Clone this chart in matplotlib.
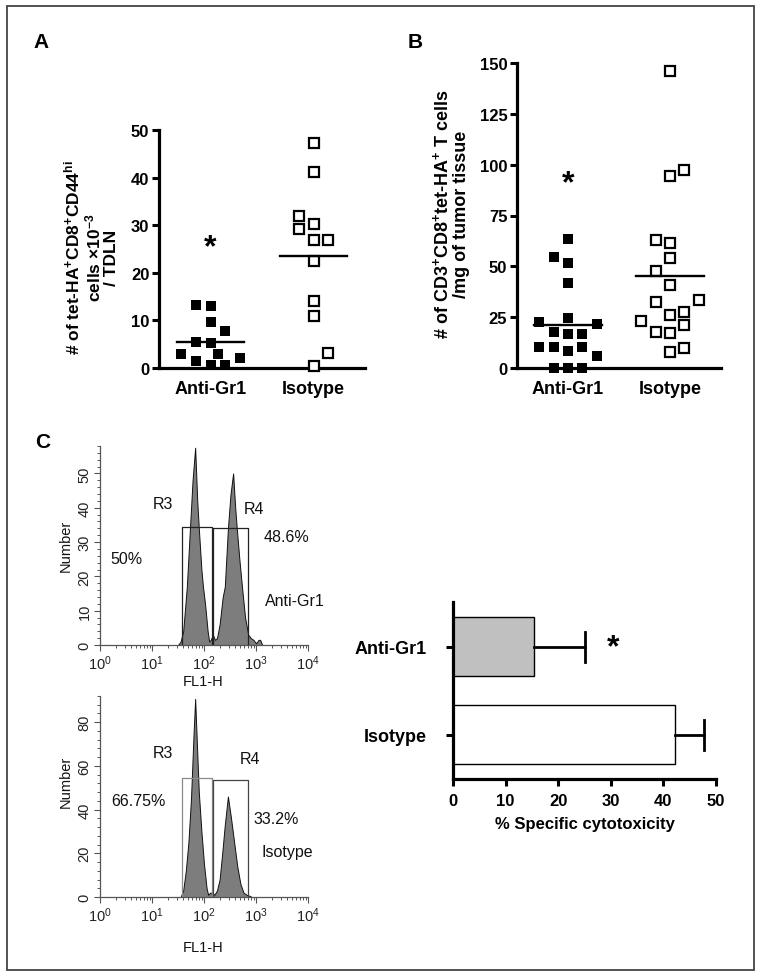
import matplotlib
matplotlib.use('Agg')
import matplotlib.pyplot as plt
import numpy as np
from matplotlib.patches import Rectangle
from matplotlib.ticker import MultipleLocator, LogLocator, NullFormatter

plt.rcParams['font.family'] = ['Liberation Sans', 'DejaVu Sans']
plt.rcParams['mathtext.fontset'] = 'custom'
plt.rcParams['mathtext.rm'] = 'Liberation Sans'
plt.rcParams['mathtext.bf'] = 'Liberation Sans:bold'
plt.rcParams['mathtext.it'] = 'Liberation Sans:italic'
plt.rcParams['mathtext.default'] = 'regular'

# ---------------- data ----------------
groups = ['Anti-Gr1', 'Isotype']

# Panel A (x10^-3 cells / TDLN)
A_anti = [13.2, 13.1, 9.7, 7.8, 5.4, 5.3, 2.9, 2.9, 2.1, 1.5, 0.7, 0.7]
A_anti_col = [-1, 0, 0, 1, -1, 0, -2, 0.5, 2, -1, 0, 1]
A_iso = [47.3, 41.1, 31.9, 29.2, 30.3, 26.8, 26.9, 22.5, 14.1, 11.0, 3.2, 0.5]
A_iso_col = [0, 0, -1, -1, 0, 0, 1, 0, 0, 0, 1, 0]
A_means = [5.4, 23.6]
A_star = 25.3

# Panel B (cells / mg tumor)
B_anti = [63.5, 54.8, 51.7, 41.7, 22.5, 24.5, 21.7, 17.6, 16.7, 16.7,
          10.5, 10.5, 8.5, 10.5, 6.1, 0, 0, 0]
B_anti_col = [0, -1, 0, 0, -2, 0, 2, -1, 0, 1, -2, -1, 0, 1, 2, -1, 0, 1]
B_iso = [146, 94.2, 97.5, 63, 61.5, 54, 47.6, 41, 32.7, 33.2,
         23.3, 26.1, 27.7, 21.2, 17.6, 17.1, 9.8, 7.7]
B_iso_col = [0, 0, 1, -1, 0, 0, -1, 0, -1, 2, -2, 0, 1, 1, -1, 0, 1, 0]
B_means = [21.2, 45.3]
B_star = 91

# Panel C histograms (log10 FL1-H, counts)
h1_log = [1.50, 1.55, 1.60, 1.67, 1.73, 1.78, 1.83, 1.87, 1.90, 1.95, 1.98, 2.02,
          2.07, 2.10, 2.13, 2.17, 2.21, 2.25, 2.30, 2.36, 2.40, 2.46, 2.51, 2.56,
          2.60, 2.63, 2.68, 2.73, 2.79, 2.85, 2.90, 2.95, 3.00, 3.05, 3.08, 3.12]
h1_cnt = [0, 1, 4, 17, 34, 48, 57.5, 42, 34, 22, 17, 12,
          4, 1, 1.5, 3, 1.5, 2, 6, 14, 17, 34, 44, 50,
          40, 34, 25, 17, 8, 3, 2, 1.5, 0.5, 1.5, 1.5, 0]
h2_log = [1.55, 1.60, 1.65, 1.70, 1.75, 1.80, 1.83, 1.86, 1.90, 1.95, 2.00, 2.05,
          2.08, 2.12, 2.16, 2.20, 2.25, 2.30, 2.35, 2.40, 2.46, 2.52, 2.58, 2.64,
          2.70, 2.76, 2.82, 2.88, 2.92]
h2_cnt = [0, 3, 12, 25, 45, 75, 90.7, 72, 48, 30, 15, 4,
          1, 2, 2, 1, 3, 8, 20, 33, 46, 36, 25, 14,
          6, 2, 1, 0.5, 0]
gate_R3 = [37, 141]
gate_R4 = [146, 700]
h1_gate_tops = [34.4, 34.0]
h2_gate_tops = [54.5, 53.7]
h1_pcts = ['50%', '48.6%']
h2_pcts = ['66.75%', '33.2%']

# Panel C bar chart
cyt_means = [15.4, 42.2]
cyt_err = [9.7, 5.5]
cyt_star = 30.4

# ---------------- layout helpers ----------------
W, H = 762, 979
fig = plt.figure(figsize=(W / 100, H / 100), dpi=100)


def fx(x):
    return x / W


def fy(y):
    return 1 - y / H


def add_ax(l, t, r, b):
    return fig.add_axes([fx(l), fy(b), (r - l) / W, (b - t) / H])


fig.patches.append(Rectangle((fx(7), fy(971)), (754 - 7) / W, (971 - 7) / H,
                             transform=fig.transFigure, fill=False,
                             edgecolor='#444444', lw=1.3))

BOLD = dict(fontweight='bold')


def style_scatter_ax(ax, ymax, ystep):
    for s in ['top', 'right']:
        ax.spines[s].set_visible(False)
    for s in ['left', 'bottom']:
        ax.spines[s].set_linewidth(2.3)
    ax.set_xlim(0.5, 2.5)
    ax.set_ylim(0, ymax)
    ax.set_yticks(np.arange(0, ymax + 0.1, ystep))
    ax.set_xticks([1, 2])
    ax.set_xticklabels(groups, fontsize=13, fontweight='bold')
    ax.tick_params(axis='x', length=0, pad=9)
    ax.tick_params(axis='y', length=5, width=2.2, pad=2, labelsize=12)
    for lab in ax.get_yticklabels():
        lab.set_fontweight('bold')
    ax.patch.set_alpha(0)


def scatter_panel(ax, anti, anti_col, iso, iso_col, means, step):
    ax.plot(1 + np.array(anti_col) * step, anti, 's', ms=7.6, mew=0,
            color='black', clip_on=False, zorder=3)
    ax.plot(2 + np.array(iso_col) * step, iso, 's', ms=7.2, mfc='white',
            mec='black', mew=1.6, clip_on=False, zorder=3)
    for i, m in enumerate(means):
        ax.plot([i + 1 - 0.33, i + 1 + 0.33], [m, m], color='black', lw=1.7,
                zorder=4)


# Panel A
axA = add_ax(159, 131, 365, 369)
style_scatter_ax(axA, 50, 10)
scatter_panel(axA, A_anti, A_anti_col, A_iso, A_iso_col, A_means, 0.142)
axA.text(1, A_star, '*', ha='center', va='center', fontsize=23, **BOLD)
fig.text(fx(91), fy(258),
         '# of tet-HA$^{\\mathbf{+}}$CD8$^{\\mathbf{+}}$CD44$^{\\mathbf{hi}}$\n'
         'cells \u00d710$^{\\mathbf{-3}}$\n/ TDLN',
         rotation=90, ha='center', va='center', multialignment='center',
         fontsize=12.5, linespacing=1.05, **BOLD)

# Panel B
axB = add_ax(517, 64, 721, 369)
style_scatter_ax(axB, 150, 25)
scatter_panel(axB, B_anti, B_anti_col, B_iso, B_iso_col, B_means, 0.14)
axB.text(1, B_star, '*', ha='center', va='center', fontsize=23, **BOLD)
fig.text(fx(451), fy(214),
         '# of CD3$^{\\mathbf{+}}$CD8$^{\\mathbf{+}}$tet-HA$^{\\mathbf{+}}$ T cells\n'
         '/mg of tumor tissue',
         rotation=90, ha='center', va='center', multialignment='center',
         fontsize=13, linespacing=1.05, **BOLD)

# panel letters
fig.text(fx(41), fy(43), 'A', ha='center', va='center', fontsize=15, **BOLD)
fig.text(fx(415), fy(43), 'B', ha='center', va='center', fontsize=15, **BOLD)
fig.text(fx(43), fy(443), 'C', ha='center', va='center', fontsize=15, **BOLD)


# Histograms
def hist_ax(ax, logs, cnts, ymax, major, minor, tops, gate_cols):
    x = 10 ** np.array(logs)
    ax.fill_between(x, cnts, 0, facecolor='#7d7d7d', edgecolor='#111111',
                    lw=0.7, zorder=2)
    ax.set_xscale('log')
    ax.set_xlim(1, 1e4)
    ax.set_ylim(0, ymax)
    for s in ['top', 'right']:
        ax.spines[s].set_visible(False)
    for s in ['left', 'bottom']:
        ax.spines[s].set_linewidth(0.9)
        ax.spines[s].set_color('#555555')
    ax.yaxis.set_major_locator(MultipleLocator(major))
    ax.yaxis.set_minor_locator(MultipleLocator(minor))
    ax.xaxis.set_major_locator(LogLocator(base=10, numticks=10))
    ax.xaxis.set_minor_locator(LogLocator(base=10, subs=np.arange(2, 10), numticks=10))
    ax.xaxis.set_minor_formatter(NullFormatter())
    ax.tick_params(which='major', length=4, width=0.8, color='#555555',
                   labelsize=10.5, labelcolor='#222222')
    ax.tick_params(which='minor', length=2.5, width=0.7, color='#555555')
    ax.tick_params(axis='x', pad=2)
    ax.tick_params(axis='y', pad=2)
    for lab in ax.get_yticklabels():
        lab.set_rotation(90)
        lab.set_va('center')
    (a0, a1), (b0, b1) = gate_R3, gate_R4
    c3, c4 = gate_cols
    ax.plot([a0, a0, a1, a1], [0, tops[0], tops[0], 0], color=c3, lw=0.9, zorder=3)
    ax.plot([b0, b0, b1, b1], [0, tops[1], tops[1], 0], color=c4, lw=0.9, zorder=3)
    ax.patch.set_alpha(0)


axH1 = add_ax(100, 447, 308, 646)
hist_ax(axH1, h1_log, h1_cnt, 58, 10, 2, h1_gate_tops, ['#222222', '#222222'])
axH2 = add_ax(100, 697, 308, 898)
hist_ax(axH2, h2_log, h2_cnt, 92, 20, 4, h2_gate_tops, ['#8a8a8a', '#444444'])

TXT = dict(fontsize=11.5, color='#111111', ha='center', va='center')
fig.text(fx(163), fy(505), 'R3', **TXT)
fig.text(fx(254), fy(510), 'R4', **TXT)
fig.text(fx(126), fy(560), h1_pcts[0], **TXT)
fig.text(fx(287), fy(538), h1_pcts[1], **TXT)
fig.text(fx(295), fy(602), 'Anti-Gr1', **TXT)
fig.text(fx(203), fy(682), 'FL1-H', fontsize=10.5, ha='center', va='center', color='#111111')
fig.text(fx(66), fy(546), 'Number', rotation=90, fontsize=10.5, ha='center', va='center', color='#111111')

fig.text(fx(163), fy(754), 'R3', **TXT)
fig.text(fx(250), fy(760), 'R4', **TXT)
fig.text(fx(138), fy(802), h2_pcts[0], **TXT)
fig.text(fx(276), fy(820), h2_pcts[1], **TXT)
fig.text(fx(287), fy(853), 'Isotype', **TXT)
fig.text(fx(203), fy(948), 'FL1-H', fontsize=10.5, ha='center', va='center', color='#111111')
fig.text(fx(66), fy(782), 'Number', rotation=90, fontsize=10.5, ha='center', va='center', color='#111111')

# Bar chart
axC = add_ax(453, 603, 716, 780)
ypos = [1, 0]
axC.barh(ypos, cyt_means, height=0.67, color=['#c0c0c0', 'white'],
         edgecolor='black', lw=1.0, zorder=2)
for m, e, yp in zip(cyt_means, cyt_err, ypos):
    axC.plot([m, m + e], [yp, yp], color='black', lw=2, zorder=3)
    axC.plot([m + e, m + e], [yp - 0.17, yp + 0.17], color='black', lw=2,
             zorder=3)
axC.set_xlim(0, 50)
axC.set_ylim(-0.5, 1.51)
for s in ['top', 'right']:
    axC.spines[s].set_visible(False)
for s in ['left', 'bottom']:
    axC.spines[s].set_linewidth(2.3)
axC.set_yticks(ypos)
axC.set_yticklabels(groups, fontsize=13, fontweight='bold')
axC.set_xticks(np.arange(0, 51, 10))
axC.tick_params(axis='y', length=5, width=2.2, pad=14)
axC.tick_params(axis='x', length=5, width=2.2, pad=5, labelsize=12)
for lab in axC.get_xticklabels():
    lab.set_fontweight('bold')
axC.set_xlabel('% Specific cytotoxicity', fontsize=12, fontweight='bold', labelpad=6)
axC.text(cyt_star, 1.0, '*', ha='center', va='center', fontsize=23, **BOLD)
axC.patch.set_alpha(0)

fig.savefig('out.png', dpi=100)
